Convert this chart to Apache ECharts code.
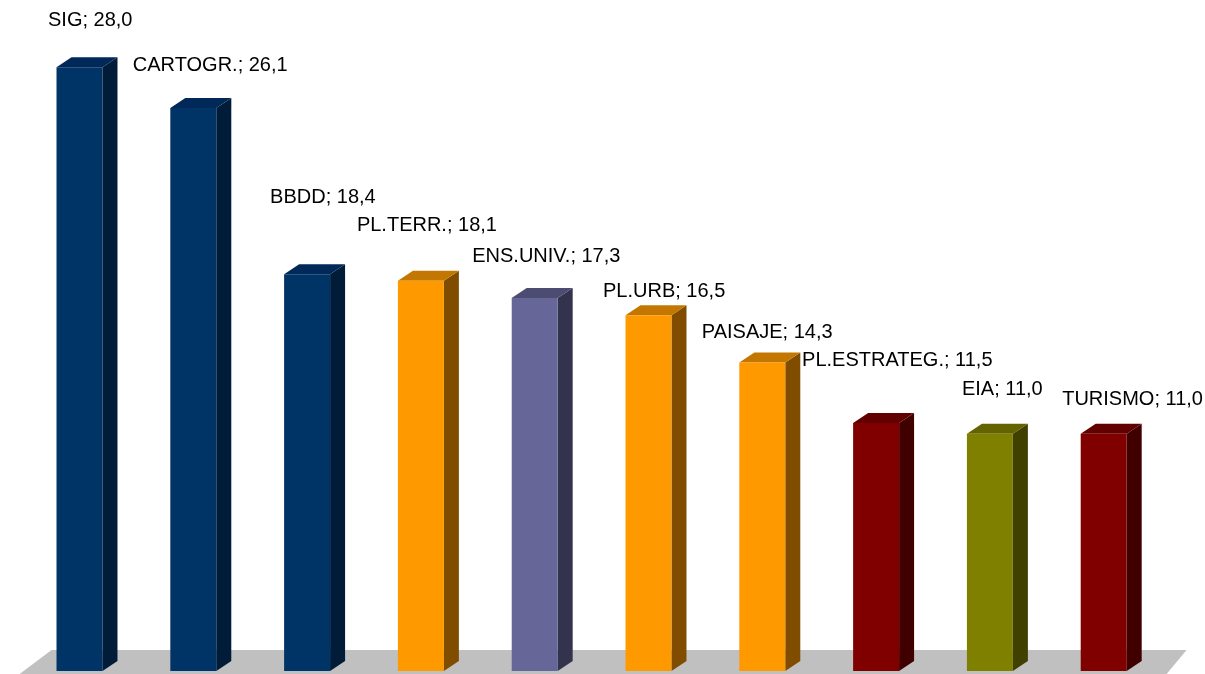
<!DOCTYPE html>
<html>
<head>
<meta charset="utf-8">
<script src="https://cdn.jsdelivr.net/npm/echarts@6/dist/echarts.min.js"></script>
<style>
html,body{margin:0;padding:0;background:#fff;}
#main{width:1205px;height:674px;}
</style>
</head>
<body>
<div id="main"></div>
<script>
// ---- data ----
var categories = ['SIG', 'CARTOGR.', 'BBDD', 'PL.TERR.', 'ENS.UNIV.', 'PL.URB', 'PAISAJE', 'PL.ESTRATEG.', 'EIA', 'TURISMO'];
var values = [28.0, 26.1, 18.4, 18.1, 17.3, 16.5, 14.3, 11.5, 11.0, 11.0];

// ---- styling (not data) ----
var palettes = {
  blue:   {front: '#003366', top: '#00295a', side: '#001c38'},
  orange: {front: '#ff9900', top: '#c47700', side: '#7f4c00'},
  purple: {front: '#666699', top: '#4c4c72', side: '#33334d'},
  red:    {front: '#800000', top: '#620000', side: '#400000'},
  olive:  {front: '#808000', top: '#636300', side: '#404000'}
};
var barPalette = ['blue', 'blue', 'blue', 'orange', 'purple', 'orange', 'orange', 'red', 'olive', 'red'];
// label offset: left edge dx and middle dy, relative to the centre of the bar's front top edge
var labelDx = [-31.5, -60.5, -37, -64, -62.5, -45.5, -60.5, -74, -28, -41.5];
var labelDy = [-47, -43, -77, -55, -41, -24, -30, -62, -44, -34];

var DEPTH_X = 15, DEPTH_Y = 10;

function fmt(v) { return v.toFixed(1).replace('.', ','); }

var chart = echarts.init(document.getElementById('main'), null, {renderer: 'canvas'});

var barData = values.map(function (v, i) { return [i, v]; });

var option = {
  animation: false,
  backgroundColor: '#ffffff',
  grid: {left: 22.6, right: 44.4, top: 24, bottom: 3, containLabel: false},
  xAxis: {
    type: 'category',
    data: categories,
    show: false,
    boundaryGap: true
  },
  yAxis: {
    type: 'value',
    min: 0,
    max: 30,
    show: false
  },
  series: [
    {
      type: 'custom',
      name: 'floor',
      z: 1,
      silent: true,
      data: [[0, 0]],
      renderItem: function (params, api) {
        var cs = params.coordSys;
        var base = api.coord([0, 0])[1];
        return {
          type: 'polygon',
          shape: {points: [
            [cs.x - 3, base + 3],
            [cs.x + 29, base - 21],
            [cs.x + cs.width + 26, base - 21],
            [cs.x + cs.width + 6, base + 3]
          ]},
          style: {fill: '#c0c0c0'}
        };
      }
    },
    {
      type: 'custom',
      name: 'bars',
      z: 2,
      data: barData,
      renderItem: function (params, api) {
        var idx = api.value(0);
        var val = api.value(1);
        var topPt = api.coord([idx, val]);
        var basePt = api.coord([idx, 0]);
        var band = api.size([1, 0])[0];
        var w = band * 0.404;
        var x0 = topPt[0] - w / 2;
        var x1 = topPt[0] + w / 2;
        var yt = topPt[1];
        var yb = basePt[1];
        var p = palettes[barPalette[params.dataIndex]];
        var name = categories[params.dataIndex];
        return {
          type: 'group',
          children: [
            {
              type: 'polygon',
              shape: {points: [[x1, yt], [x1 + DEPTH_X, yt - DEPTH_Y], [x1 + DEPTH_X, yb - DEPTH_Y], [x1, yb]]},
              style: {fill: p.side}
            },
            {
              type: 'polygon',
              shape: {points: [[x0, yt], [x0 + DEPTH_X, yt - DEPTH_Y], [x1 + DEPTH_X, yt - DEPTH_Y], [x1, yt]]},
              style: {fill: p.top}
            },
            {
              type: 'rect',
              shape: {x: x0, y: yt, width: w, height: yb - yt},
              style: {fill: p.front}
            },
            {
              type: 'text',
              x: topPt[0] + labelDx[params.dataIndex],
              y: yt + labelDy[params.dataIndex],
              style: {
                text: name + '; ' + fmt(val),
                fill: '#000000',
                font: '20px "Liberation Sans", Arial, sans-serif',
                align: 'left',
                verticalAlign: 'middle'
              }
            }
          ]
        };
      }
    }
  ]
};

chart.setOption(option);
</script>
</body>
</html>
